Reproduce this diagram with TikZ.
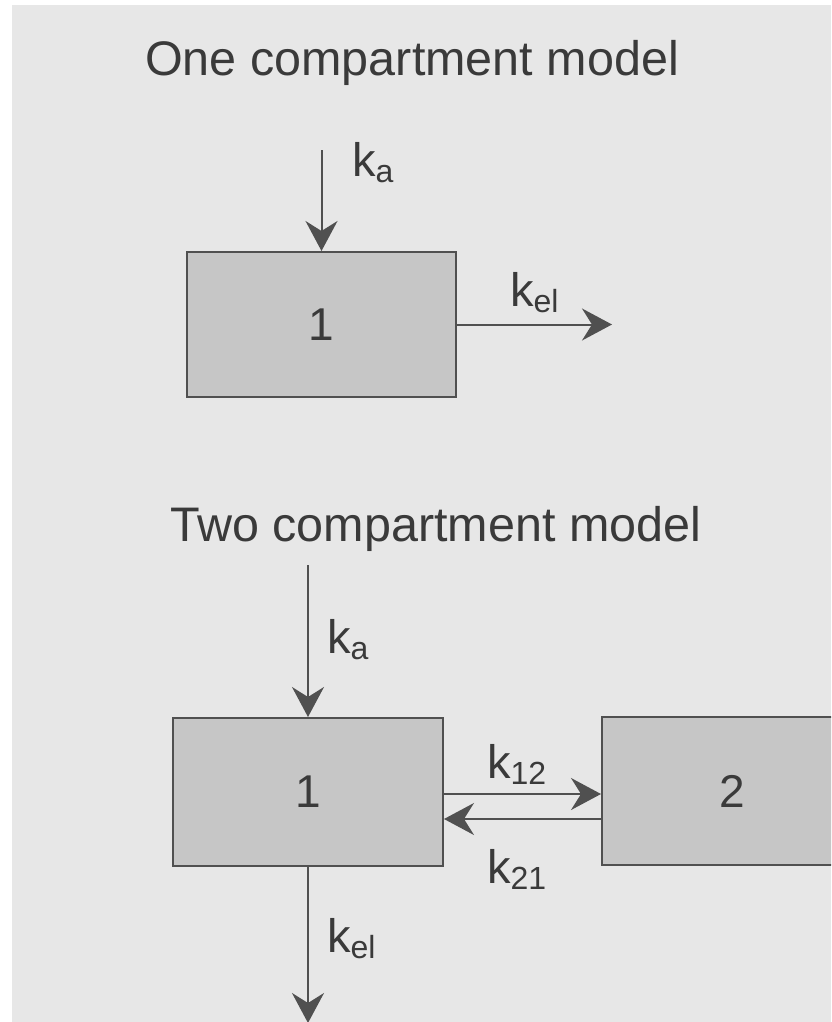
\documentclass[tikz,border=0pt]{standalone}
\usepackage{fontspec}
\setmainfont{Liberation Sans}
\usetikzlibrary{arrows.meta}
\definecolor{bg}{HTML}{E7E7E7}
\definecolor{ink}{HTML}{3A3A3A}
\definecolor{boxfill}{HTML}{C6C6C6}
\definecolor{boxline}{HTML}{505050}
\newcommand{\rk}[1]{{\fontsize{47}{47}\selectfont k}{\fontsize{32}{32}\selectfont\raisebox{-6pt}{#1}}}
\begin{document}
\begin{tikzpicture}[x=1pt,y=-1pt,
  box/.style={draw=boxline, line width=2pt, fill=boxfill, inner sep=0pt, text=ink, font=\fontsize{46}{46}\selectfont},
  flow/.style={draw=boxline, line width=2pt, -{Stealth[length=30pt,width=32pt,inset=10pt]}},
  lab/.style={text=ink, anchor=base west, inner sep=0pt},
  title/.style={text=ink, anchor=base west, inner sep=0pt, font=\fontsize{48.5}{48.5}\selectfont}]
\useasboundingbox (0,0) rectangle (831,1022);
\fill[white] (0,0) rectangle (831,1022);
\fill[bg] (12,5) rectangle (831,1022);
\begin{scope}
\clip (0,0) rectangle (831,1022);
% One compartment model
\node[title] (t1) at (145,76) {One compartment model};
\node[box, minimum width=269pt, minimum height=145pt] (box1) at (321.5,324.5) {1};
\coordinate (a1) at (321.5,150);
\coordinate (e1) at (612,324.5);
\draw[flow] (a1) -- (box1.north);
\draw[flow] (box1.east) -- (e1);
\node[lab] (ka1) at (352,176) {\rk{a}};
\node[lab] (kel1) at (510,306) {\rk{el}};
% Two compartment model
\node[title] (t2) at (170,541) {Two compartment model};
\node[box, minimum width=270pt, minimum height=148pt] (box1b) at (308,792) {1};
\node[box, minimum width=260pt, minimum height=148pt] (box2) at (732,791) {2};
\coordinate (a2) at (308,565);
\coordinate (e2) at (308,1023);
\coordinate (c12) at (0,794);
\coordinate (c21) at (0,819);
\draw[flow] (a2) -- (box1b.north);
\draw[flow] (box1b.east |- c12) -- (box2.west |- c12);
\draw[flow] (box2.west |- c21) -- (box1b.east |- c21);
\draw[flow] (box1b.south) -- (e2);
\node[lab] (ka2) at (327,653) {\rk{a}};
\node[lab] (k12) at (487,778) {\rk{12}};
\node[lab] (k21) at (487,883) {\rk{21}};
\node[lab] (kel2) at (327,952) {\rk{el}};
\end{scope}
\end{tikzpicture}
\end{document}
